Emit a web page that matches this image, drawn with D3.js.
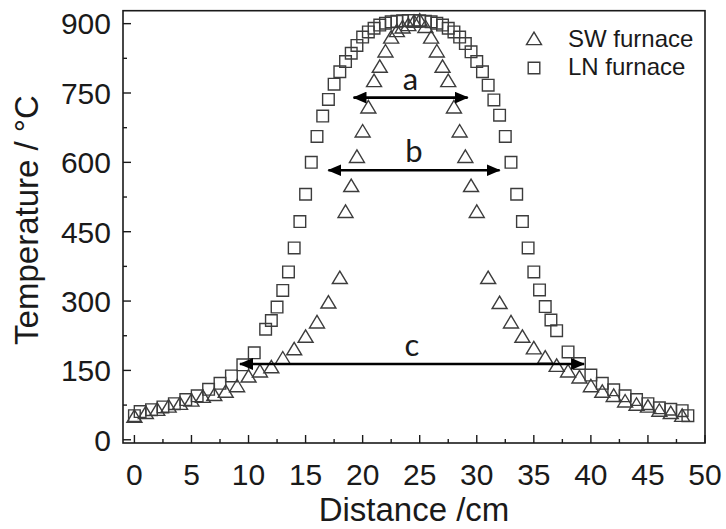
<!DOCTYPE html>
<html lang="en">
<head>
<meta charset="UTF-8">
<title>Temperature profile</title>
<script src="https://cdn.jsdelivr.net/npm/d3@7"></script>
<style>
  body { margin: 0; background: #fff; }
</style>
</head>
<body>
<div id="chart"></div>
<script>
// SW furnace (triangles)
var swX = [0, 1, 2, 3, 4, 5, 6, 7, 8, 9, 10, 11, 12, 13, 14, 15, 16, 17, 18, 18.5, 19, 19.5, 20, 20.5, 21, 21.5, 22, 22.5,
  23, 23.5, 24, 24.5, 25, 25.5, 26, 26.5, 27, 27.5, 28, 28.5, 29, 29.5, 30, 31, 32, 33, 34, 35, 36, 37, 38, 39, 40,
  41, 42, 43, 44, 45, 46, 47, 48];
var swT = [50, 58, 65, 72, 78, 85, 93, 97, 104, 116, 137, 148, 157, 176, 196, 223, 254, 297, 350, 493, 549, 612, 667, 719, 776, 807, 840, 870,
  884, 892, 897, 904, 907, 893, 870, 840, 807, 776, 719, 667, 612, 549, 493, 350, 296, 254, 223, 198, 178, 160, 148, 135, 116,
  104, 95, 83, 76, 72, 63, 58, 52];

// LN furnace (squares)
var lnX = [0, 0.5, 1.5, 2.5, 3.5, 4.5, 5.5, 6.5, 7.5, 8.5, 9.5, 10.5, 11.5, 12, 12.5, 13, 13.5, 14, 14.5, 15, 15.5, 16, 16.5, 17,
  17.5, 18, 18.5, 19, 19.5, 20, 20.5, 21, 21.5, 22, 22.5, 23, 23.5, 24, 24.5, 25, 25.5, 26, 26.5, 27, 27.5, 28, 28.5, 29,
  29.5, 30, 30.5, 31, 31.5, 32, 32.5, 33, 33.5, 34, 34.5, 35, 35.5, 36, 36.5, 37, 38, 39, 40, 41, 42, 43, 44, 45, 46, 47, 48, 48.5];
var lnT = [52, 61, 65, 71, 78, 87, 95, 109, 122, 138, 162, 188, 239, 258, 287, 323, 363, 415, 472, 531, 600, 656, 700, 736,
  769, 796, 818, 836, 853, 871, 882, 890, 897, 901, 904, 905, 906, 907, 907, 906, 905, 904, 901, 897, 890, 882, 871, 857,
  839, 818, 796, 767, 735, 702, 656, 600, 531, 472, 415, 363, 324, 288, 259, 236, 190, 165, 140, 122, 108, 95, 87, 78, 69, 66, 63, 52];

// width markers a, b, c
var arrowLabels = ["a", "b", "c"];
var arrowX1 = [19.2, 17.0, 9.25];
var arrowX2 = [29.2, 32.0, 39.4];
var arrowY = [740, 583, 164];

var xTicks = [0, 5, 10, 15, 20, 25, 30, 35, 40, 45, 50];
var yTicks = [0, 150, 300, 450, 600, 750, 900];
var legendNames = ["SW furnace", "LN furnace"];

var W = 726, H = 529;
var font = "'Liberation Sans', Arial, sans-serif";
var ink = "#1a1a1a", markInk = "#3c3c3c";

var svg = d3.select("#chart").append("svg")
  .attr("width", W).attr("height", H);

var x = d3.scaleLinear().domain([-1, 50]).range([123, 705]);
var y = d3.scaleLinear().domain([-7, 928]).range([443, 10.7]);

// frame
svg.append("rect")
  .attr("x", x.range()[0]).attr("y", y.range()[1])
  .attr("width", x.range()[1] - x.range()[0])
  .attr("height", y.range()[0] - y.range()[1])
  .attr("fill", "none").attr("stroke", ink).attr("stroke-width", 1.6);

// x axis, ticks inward
var xMinor = d3.range(2.5, 50, 5);
svg.append("g").selectAll("line.xmaj").data(xTicks).enter().append("line")
  .attr("x1", d => x(d)).attr("x2", d => x(d))
  .attr("y1", y.range()[0]).attr("y2", y.range()[0] - 8)
  .attr("stroke", ink).attr("stroke-width", 1.4);
svg.append("g").selectAll("line.xmin").data(xMinor).enter().append("line")
  .attr("x1", d => x(d)).attr("x2", d => x(d))
  .attr("y1", y.range()[0]).attr("y2", y.range()[0] - 4)
  .attr("stroke", ink).attr("stroke-width", 1.4);
svg.append("g").selectAll("text").data(xTicks).enter().append("text")
  .attr("x", d => x(d)).attr("y", 485)
  .attr("text-anchor", "middle")
  .style("font-family", font).style("font-size", "30px").attr("fill", ink)
  .text(d => d);

// y axis
var yMinor = d3.range(75, 900, 150);
svg.append("g").selectAll("line.ymaj").data(yTicks).enter().append("line")
  .attr("x1", x.range()[0]).attr("x2", x.range()[0] + 8)
  .attr("y1", d => y(d)).attr("y2", d => y(d))
  .attr("stroke", ink).attr("stroke-width", 1.4);
svg.append("g").selectAll("line.ymin").data(yMinor).enter().append("line")
  .attr("x1", x.range()[0]).attr("x2", x.range()[0] + 4)
  .attr("y1", d => y(d)).attr("y2", d => y(d))
  .attr("stroke", ink).attr("stroke-width", 1.4);
svg.append("g").selectAll("text").data(yTicks).enter().append("text")
  .attr("x", 111).attr("y", d => y(d))
  .attr("text-anchor", "end").attr("dy", "0.36em")
  .style("font-family", font).style("font-size", "30px").attr("fill", ink)
  .text(d => d);

// axis titles
svg.append("text")
  .attr("x", (x.range()[0] + x.range()[1]) / 2).attr("y", 521)
  .attr("text-anchor", "middle")
  .style("font-family", font).style("font-size", "33px").attr("fill", ink)
  .text("Distance /cm");
svg.append("text")
  .attr("transform", "translate(38,220)rotate(-90)")
  .attr("text-anchor", "middle")
  .style("font-family", font).style("font-size", "33px").attr("fill", ink)
  .text("Temperature / °C");

// marker shapes
function triPath(cx, cy) {
  var w = 7.5, h = 12.5;
  return "M" + cx + "," + (cy - h * 0.55) + "L" + (cx + w) + "," + (cy + h * 0.45) +
    "L" + (cx - w) + "," + (cy + h * 0.45) + "Z";
}
function sqPath(cx, cy) {
  var s = 5.8;
  return "M" + (cx - s) + "," + (cy - s) + "h" + 2 * s + "v" + 2 * s + "h" + (-2 * s) + "Z";
}

var sw = swX.map((d, i) => ({ x: d, t: swT[i] }));
var ln = lnX.map((d, i) => ({ x: d, t: lnT[i] }));

svg.append("g").selectAll("path").data(ln).enter().append("path")
  .attr("d", d => sqPath(x(d.x), y(d.t)))
  .attr("fill", "none").attr("stroke", markInk).attr("stroke-width", 1.4);
svg.append("g").selectAll("path").data(sw).enter().append("path")
  .attr("d", d => triPath(x(d.x), y(d.t)))
  .attr("fill", "none").attr("stroke", markInk).attr("stroke-width", 1.4);

// arrows
svg.append("defs").append("marker")
  .attr("id", "head").attr("viewBox", "0 0 14 12")
  .attr("refX", 13).attr("refY", 6)
  .attr("markerWidth", 14).attr("markerHeight", 12)
  .attr("markerUnits", "userSpaceOnUse")
  .attr("orient", "auto-start-reverse")
  .append("path").attr("d", "M0,0L14,6L0,12Z").attr("fill", "#000");

arrowLabels.forEach(function (lab, i) {
  svg.append("line")
    .attr("x1", x(arrowX1[i])).attr("x2", x(arrowX2[i]))
    .attr("y1", y(arrowY[i])).attr("y2", y(arrowY[i]))
    .attr("stroke", "#000").attr("stroke-width", 2.6)
    .attr("marker-start", "url(#head)").attr("marker-end", "url(#head)");
  svg.append("text")
    .attr("x", x((arrowX1[i] + arrowX2[i]) / 2)).attr("y", y(arrowY[i]) - 8)
    .attr("text-anchor", "middle")
    .style("font-family", "Lato, 'Open Sans', sans-serif").style("font-size", "31px")
    .attr("fill", ink)
    .text(lab);
});

// legend
var leg = svg.append("g");
leg.append("path").attr("d", triPath(534, 39))
  .attr("fill", "none").attr("stroke", markInk).attr("stroke-width", 1.4);
leg.append("path").attr("d", sqPath(534, 68))
  .attr("fill", "none").attr("stroke", markInk).attr("stroke-width", 1.4);
leg.selectAll("text").data(legendNames).enter().append("text")
  .attr("x", 568).attr("y", (d, i) => 47 + i * 28)
  .style("font-family", font).style("font-size", "24px").attr("fill", ink)
  .text(d => d);
</script>
</body>
</html>
